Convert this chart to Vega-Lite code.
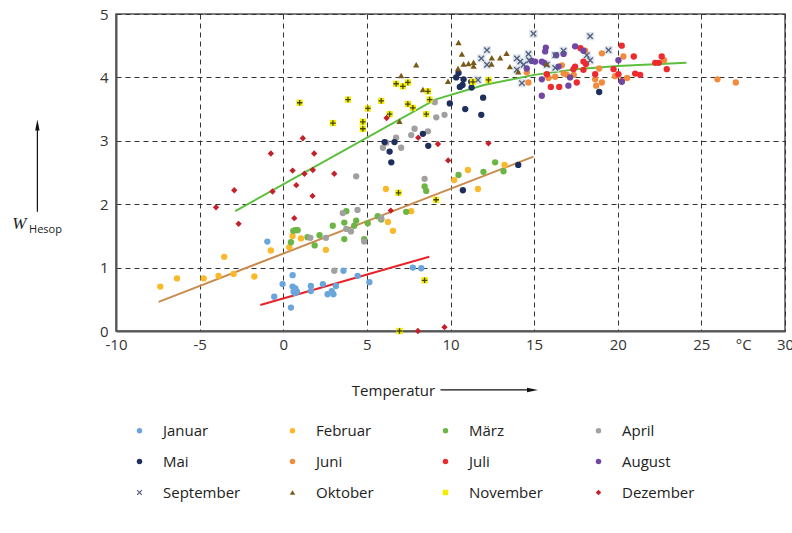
{
  "$schema": "https://vega.github.io/schema/vega-lite/v6.json",
  "width": 669,
  "height": 317,
  "autosize": "none",
  "padding": {"left": 116, "top": 14, "right": 7, "bottom": 202},
  "background": "white",
  "config": {
    "font": "Open Sans",
    "view": {"stroke": "#555", "strokeWidth": 1.5},
    "axis": {"labelFont": "Open Sans", "labelFontSize": 15, "labelColor": "#333", "ticks": false, "domainColor": "#555", "domainWidth": 2, "gridColor": "#333", "gridDash": [5, 4], "gridWidth": 1, "titleFont": "Open Sans"},
    "legend": {"labelFont": "Open Sans"}
  },
  "datasets": {
    "points": [
      {"m":"Januar","t":-0.95,"w":1.41},{"m":"Januar","t":-0.54,"w":0.54},{"m":"Januar","t":-0.04,"w":0.74},{"m":"Januar","t":0.56,"w":0.88},{"m":"Januar","t":0.46,"w":0.37},{"m":"Januar","t":0.56,"w":0.7},{"m":"Januar","t":0.72,"w":0.67},{"m":"Januar","t":0.62,"w":0.62},{"m":"Januar","t":0.82,"w":0.62},{"m":"Januar","t":0.7,"w":0.6},{"m":"Januar","t":1.65,"w":0.71},{"m":"Januar","t":1.65,"w":0.63},{"m":"Januar","t":2.37,"w":0.74},{"m":"Januar","t":2.65,"w":0.58},{"m":"Januar","t":2.9,"w":0.63},{"m":"Januar","t":3.0,"w":0.58},{"m":"Januar","t":3.15,"w":0.71},{"m":"Januar","t":3.6,"w":0.95},{"m":"Januar","t":4.45,"w":0.87},{"m":"Januar","t":5.15,"w":0.77},{"m":"Januar","t":7.75,"w":1.0},{"m":"Januar","t":8.25,"w":0.99},
      {"m":"Februar","t":-7.35,"w":0.7},{"m":"Februar","t":-6.35,"w":0.83},{"m":"Februar","t":-4.76,"w":0.83},{"m":"Februar","t":-3.87,"w":0.87},{"m":"Februar","t":-3.53,"w":1.17},{"m":"Februar","t":-2.97,"w":0.9},{"m":"Februar","t":-1.73,"w":0.86},{"m":"Februar","t":-0.74,"w":1.27},{"m":"Februar","t":0.36,"w":1.32},{"m":"Februar","t":0.56,"w":1.5},{"m":"Februar","t":1.06,"w":1.46},{"m":"Februar","t":2.55,"w":1.28},{"m":"Februar","t":6.14,"w":2.24},{"m":"Februar","t":6.26,"w":1.72},{"m":"Februar","t":6.56,"w":1.58},{"m":"Februar","t":7.65,"w":1.89},{"m":"Februar","t":10.22,"w":2.38},{"m":"Februar","t":11.04,"w":2.54},{"m":"Februar","t":11.64,"w":2.24},{"m":"Februar","t":13.23,"w":2.62},
      {"m":"März","t":0.46,"w":1.4},{"m":"März","t":0.6,"w":1.58},{"m":"März","t":0.72,"w":1.59},{"m":"März","t":0.86,"w":1.59},{"m":"März","t":1.45,"w":1.48},{"m":"März","t":1.88,"w":1.35},{"m":"März","t":2.17,"w":1.51},{"m":"März","t":2.96,"w":1.66},{"m":"März","t":3.65,"w":1.71},{"m":"März","t":3.65,"w":1.45},{"m":"März","t":3.77,"w":1.89},{"m":"März","t":4.24,"w":1.66},{"m":"März","t":4.36,"w":1.74},{"m":"März","t":4.84,"w":1.45},{"m":"März","t":5.05,"w":1.7},{"m":"März","t":5.65,"w":1.81},{"m":"März","t":5.86,"w":1.76},{"m":"März","t":7.35,"w":1.88},{"m":"März","t":8.45,"w":2.28},{"m":"März","t":8.55,"w":2.21},{"m":"März","t":10.48,"w":2.46},{"m":"März","t":11.97,"w":2.51},{"m":"März","t":12.67,"w":2.66},{"m":"März","t":13.17,"w":2.52},
      {"m":"April","t":1.62,"w":1.47},{"m":"April","t":2.55,"w":1.47},{"m":"April","t":3.05,"w":0.95},{"m":"April","t":3.56,"w":1.86},{"m":"April","t":4.44,"w":1.91},{"m":"April","t":3.77,"w":1.61},{"m":"April","t":4.05,"w":1.57},{"m":"April","t":4.36,"w":2.44},{"m":"April","t":4.84,"w":1.41},{"m":"April","t":5.86,"w":1.78},{"m":"April","t":5.96,"w":2.89},{"m":"April","t":6.16,"w":2.97},{"m":"April","t":6.75,"w":3.05},{"m":"April","t":7.05,"w":2.89},{"m":"April","t":7.65,"w":3.09},{"m":"April","t":7.85,"w":3.19},{"m":"April","t":8.65,"w":3.15},{"m":"April","t":8.45,"w":2.4},{"m":"April","t":9.15,"w":3.37},{"m":"April","t":9.64,"w":3.41},{"m":"April","t":9.06,"w":3.61},
      {"m":"Mai","t":6.06,"w":2.98},{"m":"Mai","t":6.65,"w":2.98},{"m":"Mai","t":6.36,"w":2.83},{"m":"Mai","t":6.46,"w":2.66},{"m":"Mai","t":8.35,"w":3.11},{"m":"Mai","t":8.67,"w":2.92},{"m":"Mai","t":9.96,"w":3.59},{"m":"Mai","t":10.34,"w":4.0},{"m":"Mai","t":10.48,"w":4.07},{"m":"Mai","t":10.78,"w":3.97},{"m":"Mai","t":10.56,"w":3.85},{"m":"Mai","t":10.72,"w":3.88},{"m":"Mai","t":11.26,"w":3.84},{"m":"Mai","t":11.24,"w":3.93},{"m":"Mai","t":10.88,"w":3.5},{"m":"Mai","t":11.84,"w":3.41},{"m":"Mai","t":11.95,"w":3.68},{"m":"Mai","t":10.74,"w":2.22},{"m":"Mai","t":14.05,"w":2.62},{"m":"Mai","t":18.89,"w":3.77},
      {"m":"Juni","t":14.56,"w":4.08},{"m":"Juni","t":14.66,"w":3.92},{"m":"Juni","t":15.86,"w":3.99},{"m":"Juni","t":16.26,"w":4.01},{"m":"Juni","t":16.66,"w":4.19},{"m":"Juni","t":16.76,"w":4.06},{"m":"Juni","t":16.95,"w":4.04},{"m":"Juni","t":17.37,"w":4.04},{"m":"Juni","t":18.05,"w":4.42},{"m":"Juni","t":18.65,"w":3.97},{"m":"Juni","t":18.71,"w":3.87},{"m":"Juni","t":18.89,"w":4.14},{"m":"Juni","t":19.05,"w":3.92},{"m":"Juni","t":19.05,"w":4.38},{"m":"Juni","t":19.84,"w":4.02},{"m":"Juni","t":20.34,"w":4.33},{"m":"Juni","t":20.56,"w":3.99},{"m":"Juni","t":22.77,"w":4.27},{"m":"Juni","t":25.96,"w":3.97},{"m":"Juni","t":27.06,"w":3.92},
      {"m":"Juli","t":15.76,"w":4.05},{"m":"Juli","t":16.0,"w":3.85},{"m":"Juli","t":16.5,"w":3.85},{"m":"Juli","t":17.35,"w":4.13},{"m":"Juli","t":17.45,"w":4.17},{"m":"Juli","t":17.55,"w":3.92},{"m":"Juli","t":17.77,"w":4.46},{"m":"Juli","t":17.95,"w":4.25},{"m":"Juli","t":18.1,"w":4.21},{"m":"Juli","t":17.95,"w":4.12},{"m":"Juli","t":18.65,"w":4.05},{"m":"Juli","t":19.75,"w":4.13},{"m":"Juli","t":20.04,"w":4.05},{"m":"Juli","t":20.24,"w":4.5},{"m":"Juli","t":20.24,"w":3.94},{"m":"Juli","t":20.96,"w":4.33},{"m":"Juli","t":21.04,"w":4.06},{"m":"Juli","t":21.34,"w":4.04},{"m":"Juli","t":22.24,"w":4.23},{"m":"Juli","t":22.45,"w":4.23},{"m":"Juli","t":22.63,"w":4.33},{"m":"Juli","t":22.93,"w":4.13},
      {"m":"August","t":14.56,"w":4.14},{"m":"August","t":14.86,"w":4.26},{"m":"August","t":15.06,"w":4.25},{"m":"August","t":15.46,"w":4.25},{"m":"August","t":15.6,"w":4.23},{"m":"August","t":15.46,"w":3.97},{"m":"August","t":15.46,"w":3.71},{"m":"August","t":15.7,"w":4.47},{"m":"August","t":15.66,"w":4.41},{"m":"August","t":16.32,"w":4.35},{"m":"August","t":16.46,"w":4.17},{"m":"August","t":16.76,"w":4.37},{"m":"August","t":17.45,"w":4.49},{"m":"August","t":17.95,"w":4.42},{"m":"August","t":17.15,"w":4.0},{"m":"August","t":17.05,"w":3.87},{"m":"August","t":20.04,"w":4.27},{"m":"August","t":20.24,"w":3.93},
      {"m":"September","t":11.64,"w":3.96},{"m":"September","t":11.84,"w":4.3},{"m":"September","t":12.18,"w":4.43},{"m":"September","t":12.18,"w":4.2},{"m":"September","t":13.97,"w":4.3},{"m":"September","t":13.97,"w":4.12},{"m":"September","t":14.17,"w":4.25},{"m":"September","t":14.27,"w":3.91},{"m":"September","t":14.37,"w":4.2},{"m":"September","t":14.66,"w":4.37},{"m":"September","t":14.7,"w":4.27},{"m":"September","t":14.96,"w":4.69},{"m":"September","t":15.76,"w":4.2},{"m":"September","t":16.26,"w":4.35},{"m":"September","t":16.26,"w":4.15},{"m":"September","t":16.76,"w":4.42},{"m":"September","t":18.15,"w":4.35},{"m":"September","t":18.35,"w":4.27},{"m":"September","t":18.35,"w":4.65},{"m":"September","t":19.45,"w":4.43},
      {"m":"Oktober","t":6.95,"w":3.31},{"m":"Oktober","t":7.05,"w":4.03},{"m":"Oktober","t":7.95,"w":4.2},{"m":"Oktober","t":8.35,"w":3.81},{"m":"Oktober","t":9.85,"w":3.94},{"m":"Oktober","t":10.45,"w":4.14},{"m":"Oktober","t":10.48,"w":4.55},{"m":"Oktober","t":10.68,"w":4.37},{"m":"Oktober","t":10.78,"w":4.21},{"m":"Oktober","t":11.08,"w":4.22},{"m":"Oktober","t":11.38,"w":4.24},{"m":"Oktober","t":11.38,"w":4.18},{"m":"Oktober","t":12.45,"w":4.21},{"m":"Oktober","t":12.47,"w":4.31},{"m":"Oktober","t":12.97,"w":4.31},{"m":"Oktober","t":13.35,"w":4.38},{"m":"Oktober","t":13.55,"w":4.17},{"m":"Oktober","t":14.05,"w":4.09},{"m":"Oktober","t":15.76,"w":4.21},
      {"m":"November","t":0.98,"w":3.6},{"m":"November","t":2.97,"w":3.28},{"m":"November","t":3.87,"w":3.65},{"m":"November","t":4.76,"w":3.3},{"m":"November","t":4.76,"w":3.19},{"m":"November","t":5.06,"w":3.51},{"m":"November","t":5.86,"w":3.63},{"m":"November","t":6.36,"w":3.42},{"m":"November","t":6.75,"w":3.9},{"m":"November","t":7.15,"w":3.86},{"m":"November","t":7.45,"w":3.92},{"m":"November","t":7.45,"w":3.58},{"m":"November","t":7.75,"w":3.52},{"m":"November","t":8.65,"w":3.78},{"m":"November","t":8.75,"w":3.65},{"m":"November","t":8.55,"w":3.42},{"m":"November","t":11.34,"w":3.93},{"m":"November","t":12.27,"w":3.96},{"m":"November","t":6.89,"w":2.18},{"m":"November","t":9.14,"w":2.07},{"m":"November","t":8.45,"w":0.8},{"m":"November","t":6.95,"w":0.0},
      {"m":"Dezember","t":-4.02,"w":1.95},{"m":"Dezember","t":-2.93,"w":2.22},{"m":"Dezember","t":-2.67,"w":1.69},{"m":"Dezember","t":-0.74,"w":2.8},{"m":"Dezember","t":-0.64,"w":2.2},{"m":"Dezember","t":0.56,"w":2.53},{"m":"Dezember","t":0.78,"w":2.3},{"m":"Dezember","t":0.66,"w":1.78},{"m":"Dezember","t":1.17,"w":3.04},{"m":"Dezember","t":1.27,"w":2.48},{"m":"Dezember","t":1.77,"w":2.54},{"m":"Dezember","t":1.75,"w":2.13},{"m":"Dezember","t":1.85,"w":2.8},{"m":"Dezember","t":3.05,"w":2.48},{"m":"Dezember","t":6.18,"w":3.36},{"m":"Dezember","t":6.43,"w":1.9},{"m":"Dezember","t":8.07,"w":3.05},{"m":"Dezember","t":9.25,"w":2.95},{"m":"Dezember","t":9.86,"w":2.69},{"m":"Dezember","t":12.27,"w":2.96},{"m":"Dezember","t":8.05,"w":0.0},{"m":"Dezember","t":9.64,"w":0.06}
    ],
    "lines": [
      {"s":"gruen","t":-2.87,"w":1.89},{"s":"gruen","t":9.08,"w":3.65},{"s":"gruen","t":12.0,"w":3.88},{"s":"gruen","t":15.0,"w":4.04},{"s":"gruen","t":17.5,"w":4.13},{"s":"gruen","t":20.0,"w":4.18},{"s":"gruen","t":24.1,"w":4.23},
      {"s":"braun","t":-7.45,"w":0.46},{"s":"braun","t":14.96,"w":2.75},
      {"s":"rot","t":-1.37,"w":0.41},{"s":"rot","t":8.73,"w":1.17}
    ]
  },
  "layer": [
    {
      "data": {"name": "lines"},
      "mark": {"type": "line", "strokeWidth": 2, "clip": false},
      "encoding": {
        "x": {"field": "t", "type": "quantitative", "scale": {"domain": [-10, 30], "nice": false},
          "axis": {"values": [-10, -5, 0, 5, 10, 15, 20, 25, 27.5, 30], "labelExpr": "datum.value === 27.5 ? '°C' : '' + datum.value", "labelPadding": 6, "labelFlush": false, "labelOverlap": false,
            "gridOpacity": {"condition": {"test": "datum.value === 27.5", "value": 0}, "value": 1},
            "title": "Temperatur", "titleFontSize": 15, "titleFontWeight": "normal", "titleColor": "#222", "titleX": 277, "titleY": 59, "titleBaseline": "middle", "titleAnchor": "middle", "titleAlign": "center"}},
        "y": {"field": "w", "type": "quantitative", "scale": {"domain": [0, 5], "nice": false},
          "axis": {"values": [0, 0.5, 1, 1.5, 2, 2.5, 3, 3.5, 4, 4.5, 5], "labelExpr": "datum.value === 4.5 ? 'MWh' : (datum.value % 1 === 0 ? '' + datum.value : '')", "labelPadding": 8, "labelFlush": false, "labelOverlap": false, "title": null}},
        "stroke": {"field": "s", "type": "nominal", "scale": {"domain": ["gruen", "braun", "rot"], "range": ["#5cbf3c", "#c98b4e", "#e8222a"]}, "legend": null},
        "order": {"field": "t", "type": "quantitative"}
      }
    },
    {
      "data": {"name": "points"},
      "transform": [{"filter": "datum.m === 'September'"}],
      "mark": {"type": "point", "shape": "square", "filled": true, "size": 70, "color": "#d3dbe6", "clip": false},
      "encoding": {"x": {"field": "t", "type": "quantitative"}, "y": {"field": "w", "type": "quantitative"}}
    },
    {
      "data": {"name": "points"},
      "mark": {"type": "point", "filled": true, "opacity": 1, "size": 40, "clip": false},
      "encoding": {
        "x": {"field": "t", "type": "quantitative"},
        "y": {"field": "w", "type": "quantitative"},
        "color": {"field": "m", "type": "nominal",
          "scale": {"domain": ["Januar", "Februar", "März", "April", "Mai", "Juni", "Juli", "August", "September", "Oktober", "November", "Dezember"],
            "range": ["#6aa6dc", "#fbb829", "#6cb545", "#a0a0a0", "#1e2f5e", "#f28b3b", "#ee2a2e", "#7147a6", "#4e5e7c", "#7a5a18", "#f2ec00", "#c4202a"]},
          "legend": {"title": null, "orient": "none", "direction": "horizontal", "legendX": 16, "legendY": 409, "columns": 4, "gridAlign": "all", "columnPadding": 44, "rowPadding": 15, "symbolSize": 30, "labelFontSize": 15, "labelColor": "#222", "labelOffset": 16, "padding": 0}},
        "shape": {"field": "m", "type": "nominal",
          "scale": {"domain": ["Januar", "Februar", "März", "April", "Mai", "Juni", "Juli", "August", "September", "Oktober", "November", "Dezember"],
            "range": ["circle", "circle", "circle", "circle", "circle", "circle", "circle", "circle", "M-1,-0.7L-0.7,-1L0,-0.3L0.7,-1L1,-0.7L0.3,0L1,0.7L0.7,1L0,0.3L-0.7,1L-1,0.7L-0.3,0Z", "triangle-up", "square", "diamond"]}}
      }
    },
    {
      "data": {"name": "points"},
      "transform": [{"filter": "datum.m === 'November'"}],
      "mark": {"type": "point", "shape": "M-1,0L1,0M0,-1L0,1", "filled": false, "stroke": "#000", "strokeWidth": 1.3, "size": 30, "clip": false},
      "encoding": {"x": {"field": "t", "type": "quantitative"}, "y": {"field": "w", "type": "quantitative"}}
    },
    {
      "data": {"values": [{}]},
      "mark": {"type": "rule", "stroke": "#111", "strokeWidth": 1.2, "clip": false},
      "encoding": {"x": {"datum": 9.4}, "x2": {"datum": 14.9}, "y": {"datum": -0.93}}
    },
    {
      "data": {"values": [{}]},
      "mark": {"type": "point", "shape": "M1,0L-1,-0.4L-1,0.4Z", "filled": true, "color": "#111", "size": 120, "opacity": 1, "clip": false},
      "encoding": {"x": {"datum": 14.9}, "y": {"datum": -0.93}}
    },
    {
      "data": {"values": [{}]},
      "mark": {"type": "rule", "stroke": "#111", "strokeWidth": 1.2, "clip": false},
      "encoding": {"x": {"datum": -14.7}, "y": {"datum": 1.88}, "y2": {"datum": 3.25}}
    },
    {
      "data": {"values": [{}]},
      "mark": {"type": "point", "shape": "M0,-1L-0.4,1L0.4,1Z", "filled": true, "color": "#111", "size": 120, "opacity": 1, "clip": false},
      "encoding": {"x": {"datum": -14.7}, "y": {"datum": 3.25}}
    },
    {
      "data": {"values": [{}]},
      "mark": {"type": "text", "text": "W", "font": "Liberation Serif", "fontStyle": "italic", "fontSize": 17, "color": "#222", "align": "left", "baseline": "middle", "clip": false},
      "encoding": {"x": {"datum": -16.2}, "y": {"datum": 1.69}}
    },
    {
      "data": {"values": [{}]},
      "mark": {"type": "text", "text": "Hesop", "font": "Open Sans", "fontSize": 11, "color": "#222", "align": "left", "baseline": "middle", "clip": false},
      "encoding": {"x": {"datum": -15.2}, "y": {"datum": 1.6}}
    }
  ]
}
